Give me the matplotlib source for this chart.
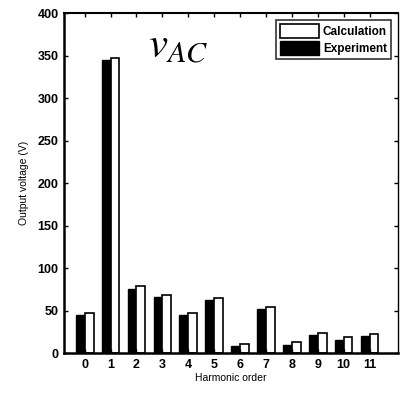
import matplotlib.pyplot as plt
import numpy as np
from matplotlib.patches import Patch

# Harmonic spectrum of the output voltage
orders = list(range(12))
experiment = [45, 345, 76, 66, 45, 63, 8, 52, 10, 21, 16, 20]
calculation = [47, 347, 79, 68, 47, 65, 11, 54, 13, 23.5, 18.5, 22.5]
yticks = [0, 50, 100, 150, 200, 250, 300, 350, 400]

plt.rcParams['font.family'] = ['Liberation Sans', 'DejaVu Sans']
plt.rcParams['mathtext.fontset'] = 'stix'

fig = plt.figure(figsize=(4.0, 3.95), dpi=100)
ax = fig.add_axes([0.16, 0.106, 0.835, 0.861])

x = np.array(orders)
w = 0.34
ax.bar(x - w / 2, experiment, width=w, color="black", edgecolor="black", linewidth=1.0)
ax.bar(x + w / 2, calculation, width=w, color="white", edgecolor="black", linewidth=1.2)

ax.set_xlim(-0.8, 12.1)
ax.set_ylim(0, 400)
ax.set_xticks(orders)
ax.set_yticks(yticks)
ax.tick_params(direction="in", top=True, right=True, length=3, width=1,
               labelsize=9, pad=4)
for lab in ax.get_xticklabels() + ax.get_yticklabels():
    lab.set_fontweight("bold")

for side in ["left", "bottom"]:
    ax.spines[side].set_linewidth(1.8)
ax.spines["top"].set_linewidth(1.5)
ax.spines["right"].set_linewidth(1.0)

ax.set_xlabel("Harmonic order", fontsize=7.5, labelpad=2)
ax.set_ylabel("Output voltage (V)", fontsize=7.5, labelpad=6)

ax.text(0.25, 0.9, r"$v_{AC}$", transform=ax.transAxes, fontsize=31,
        ha="left", va="center")

handles = [Patch(facecolor="white", edgecolor="black", linewidth=1.2, label="Calculation"),
           Patch(facecolor="black", edgecolor="black", label="Experiment")]
leg = ax.legend(handles=handles, loc="upper right",
                prop={"weight": "bold", "size": 8.5}, frameon=True, fancybox=False,
                edgecolor="black", handlelength=3.3, handleheight=1.4,
                handletextpad=0.35, borderpad=0.35, labelspacing=0.25,
                borderaxespad=0.6)
leg.get_frame().set_linewidth(1.2)

fig.savefig("out.png", dpi=100)
